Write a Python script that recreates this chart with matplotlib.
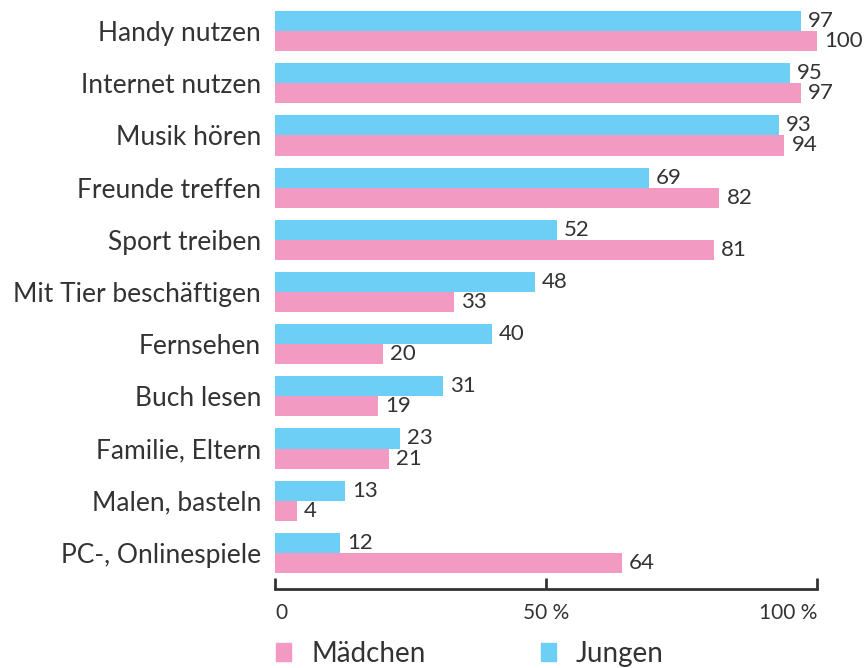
import matplotlib
matplotlib.use("Agg")
import matplotlib.pyplot as plt
from matplotlib.patches import Rectangle
import numpy as np

categories = ["Handy nutzen", "Internet nutzen", "Musik hören", "Freunde treffen",
              "Sport treiben", "Mit Tier beschäftigen", "Fernsehen", "Buch lesen",
              "Familie, Eltern", "Malen, basteln", "PC-, Onlinespiele"]
jungen = [97, 95, 93, 69, 52, 48, 40, 31, 23, 13, 12]
maedchen = [100, 97, 94, 82, 81, 33, 20, 19, 21, 4, 64]
xticks = [0, 50, 100]
xticklabels = ["0", "50 %", "100 %"]
series_names = ["Mädchen", "Jungen"]

BLUE = "#6dcff6"
PINK = "#f39ac3"
TXT = "#333333"
FONT = "Lato"

plt.rcParams['font.family'] = [FONT, 'DejaVu Sans']

W, H = 866, 668
fig = plt.figure(figsize=(W / 100, H / 100), dpi=100)
ax_left, ax_right = 275 / W, 817 / W
ax_top, ax_bot = 1 - 5 / H, 1 - 589 / H
ax = fig.add_axes([ax_left, ax_bot, ax_right - ax_left, ax_top - ax_bot])

unit = 52.0
bh = 20 / unit
y = np.arange(len(categories))
ax.barh(y - bh / 2, jungen, height=bh, color=BLUE)
ax.barh(y + bh / 2, maedchen, height=bh, color=PINK)

for i in range(len(categories)):
    ax.text(jungen[i] + 1.3, y[i] - bh / 2, str(jungen[i]), va="center", ha="left",
            fontsize=16, color=TXT)
    ax.text(maedchen[i] + 1.3, y[i] + bh / 2, str(maedchen[i]), va="center", ha="left",
            fontsize=16, color=TXT)

ax.set_xlim(0, 100)
ax.set_ylim(len(categories) - 1 + 36 / unit, -26 / unit)
ax.set_yticks(y)
ax.set_yticklabels(categories, fontsize=19, color=TXT)
ax.tick_params(axis="y", length=0, pad=10)

for s in ["top", "right", "left"]:
    ax.spines[s].set_visible(False)
ax.spines["bottom"].set_linewidth(2)
ax.spines["bottom"].set_color(TXT)
ax.set_xticks(xticks)
ax.set_xticklabels(xticklabels, fontsize=15, color=TXT)
ax.tick_params(axis="x", direction="in", length=8, width=2, color=TXT, pad=10)
lbls = ax.get_xticklabels()
lbls[0].set_horizontalalignment("left")
lbls[2].set_horizontalalignment("right")

# legend
def legend_item(x_sq, x_txt, color, name):
    fig.patches.append(Rectangle((x_sq / W, 1 - 661 / H), 15 / W, 18 / H,
                                 transform=fig.transFigure, color=color))
    fig.text(x_txt / W, 1 - 654 / H, name, fontsize=20, color=TXT, va="center", ha="left")

legend_item(276, 311, PINK, series_names[0])
legend_item(541, 576, BLUE, series_names[1])

fig.savefig("out.png", dpi=100)
